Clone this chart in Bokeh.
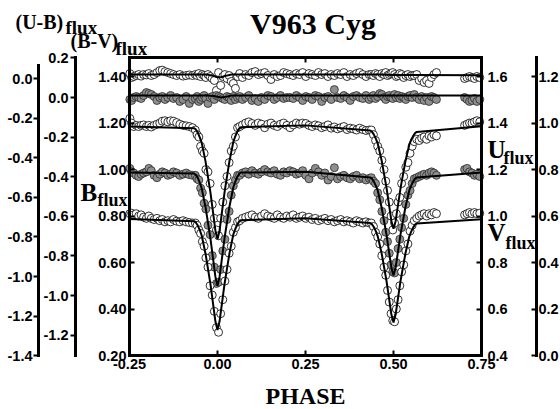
from bokeh.plotting import figure
from bokeh.models import Range1d, LinearAxis, FixedTicker, NumeralTickFormatter, Label
from bokeh.embed import file_html
from bokeh.resources import INLINE

# ---------------- data ----------------
phase = [
    -0.249, -0.244, -0.238, -0.231, -0.224, -0.217, -0.210, -0.202, -0.195, -0.188,
    -0.180, -0.172, -0.164, -0.157, -0.149, -0.141, -0.133, -0.125, -0.116, -0.107,
    -0.098, -0.089, -0.080, -0.071,
    -0.063, -0.058, -0.053, -0.048, -0.043, -0.038, -0.033, -0.027, -0.021, -0.015,
    -0.009, -0.003, 0.003, 0.009, 0.015, 0.021, 0.027, 0.033, 0.039, 0.045, 0.051, 0.057,
    0.063, 0.071, 0.080, 0.089, 0.098, 0.107, 0.116, 0.125, 0.134, 0.143,
    0.152, 0.161, 0.170, 0.179, 0.188, 0.197, 0.206, 0.215, 0.224, 0.233,
    0.242, 0.251, 0.260, 0.269, 0.278, 0.287, 0.296, 0.305, 0.314, 0.323,
    0.332, 0.341, 0.350, 0.359, 0.368, 0.377, 0.386, 0.395, 0.404, 0.413,
    0.422, 0.431,
    0.437, 0.443, 0.449, 0.455, 0.461, 0.467, 0.473, 0.478, 0.483, 0.488,
    0.493, 0.498, 0.503, 0.508, 0.513, 0.518, 0.523, 0.529, 0.535, 0.541, 0.547, 0.553,
    0.559, 0.566, 0.573, 0.580, 0.587, 0.594, 0.601, 0.608, 0.615, 0.622,
    0.702, 0.709, 0.716, 0.723, 0.730, 0.737, 0.745,
]

ub_flux = [
    0.025, 0.005, 0.010, 0.015, 0.020, 0.012, 0.020, 0.018, 0.025, 0.015,
    0.020, 0.030, 0.040, 0.042, 0.035, 0.030, 0.025, 0.020, 0.015, 0.020,
    0.012, 0.015, 0.018, 0.015,
    0.020, 0.015, 0.025, 0.010, 0.020, 0.015, 0.005, 0.020, 0.010, 0.000,
    -0.010, -0.060, 0.030, -0.035, 0.010, 0.020, 0.000, 0.015, -0.015, -0.025, -0.050, 0.010,
    0.025, 0.005, 0.020, 0.015, 0.030, 0.035, 0.020, 0.025, 0.030, 0.015,
    -0.005, 0.020, 0.010, 0.015, 0.030, 0.025, 0.020, 0.015, 0.025, 0.020,
    0.030, 0.010, 0.025, 0.020, 0.015, 0.030, 0.020, 0.025, 0.010, 0.020,
    0.015, 0.025, 0.020, 0.030, 0.010, 0.020, 0.015, 0.025, 0.030, 0.020,
    0.010, 0.020,
    0.020, 0.015, 0.025, 0.020, 0.010, 0.025, 0.020, 0.030, 0.015, 0.020,
    0.025, 0.030, 0.020, 0.010, 0.015, 0.025, 0.020, 0.005, 0.015, 0.020, 0.010, 0.015,
    0.015, 0.020, -0.010, 0.000, -0.020, -0.010, -0.025, 0.005, 0.020, 0.030,
    0.000, 0.005, 0.010, 0.005, 0.000, 0.010, 0.005,
]

bv_flux = [
    -0.010, -0.015, 0.000, 0.005, 0.000, -0.005, 0.010, 0.025, 0.020, 0.015,
    0.005, -0.015, 0.000, 0.005, -0.010, 0.000, 0.010, -0.005, 0.000, -0.020,
    -0.010, 0.005, -0.030, -0.010,
    -0.005, 0.005, -0.020, -0.010, 0.000, 0.010, -0.005, -0.030, 0.000, 0.005,
    -0.010, 0.010, 0.005, 0.000, -0.005, -0.010, 0.005, 0.000, -0.015, 0.005, -0.010, 0.000,
    0.005, -0.010, 0.000, 0.010, -0.015, -0.005, -0.020, 0.000, -0.010, 0.010,
    0.005, -0.010, 0.000, 0.010, -0.005, 0.000, 0.000, -0.005, 0.010, 0.000,
    -0.015, 0.005, 0.000, -0.010, 0.010, 0.005, -0.020, 0.000, 0.005, -0.010,
    0.040, 0.000, -0.005, 0.010, 0.000, -0.015, 0.005, 0.010, 0.000, -0.005,
    0.010, -0.010,
    0.000, 0.010, -0.005, 0.005, 0.020, 0.015, 0.000, -0.010, 0.005, 0.010,
    0.000, -0.005, 0.015, 0.000, 0.010, -0.005, 0.005, 0.000, -0.010, 0.005, 0.010, 0.000,
    0.015, 0.000, -0.010, 0.005, -0.015, 0.000, -0.020, 0.005, 0.000, -0.010,
    0.000, -0.010, -0.020, -0.015, -0.005, -0.020, -0.010,
]

u_flux = [
    1.420, 1.400, 1.385, 1.390, 1.385, 1.390, 1.392, 1.385, 1.390, 1.383,
    1.390, 1.395, 1.400, 1.408, 1.410, 1.405, 1.410, 1.408, 1.402, 1.395,
    1.390, 1.388, 1.385, 1.380,
    1.370, 1.350, 1.340, 1.300, 1.280, 1.270, 1.200, 1.190, 1.140, 1.050,
    0.990, 0.940, 0.915, 0.990, 1.060, 1.130, 1.170, 1.230, 1.280, 1.300, 1.340, 1.380,
    1.385, 1.392, 1.400, 1.405, 1.398, 1.390, 1.400, 1.395, 1.380, 1.395,
    1.400, 1.390, 1.385, 1.395, 1.400, 1.390, 1.380, 1.392, 1.400, 1.395,
    1.400, 1.398, 1.390, 1.385, 1.392, 1.388, 1.380, 1.385, 1.392, 1.378,
    1.383, 1.375, 1.380, 1.385, 1.372, 1.378, 1.375, 1.370, 1.378, 1.372,
    1.368, 1.370,
    1.370, 1.350, 1.325, 1.300, 1.280, 1.240, 1.200, 1.150, 1.110, 1.060,
    1.000, 0.940, 0.970, 1.010, 1.060, 1.080, 1.140, 1.170, 1.210, 1.230, 1.270, 1.300,
    1.320, 1.330, 1.325, 1.335, 1.340, 1.330, 1.345, 1.340, 1.350, 1.345,
    1.390, 1.395, 1.400, 1.400, 1.405, 1.410, 1.405,
]

b_flux = [
    1.005, 0.990, 0.985, 0.975, 0.970, 0.980, 0.985, 0.990, 1.005, 0.995,
    0.975, 0.965, 0.980, 0.990, 0.985, 0.975, 0.980, 0.990, 0.985, 0.975,
    0.980, 0.985, 0.978, 0.975,
    0.975, 0.960, 0.955, 0.920, 0.900, 0.855, 0.830, 0.760, 0.720, 0.630,
    0.580, 0.510, 0.515, 0.570, 0.650, 0.700, 0.785, 0.820, 0.890, 0.930, 0.955, 0.975,
    0.975, 0.985, 0.990, 0.980, 0.995, 0.985, 0.980, 0.990, 1.000, 0.990,
    0.985, 0.995, 0.980, 0.975, 0.990, 0.985, 0.995, 0.990, 0.980, 0.985,
    0.995, 0.975, 0.960, 0.985, 1.005, 0.990, 0.975, 0.985, 0.955, 0.970,
    1.008, 0.960, 0.970, 0.975, 0.965, 0.960, 0.970, 0.975, 0.960, 0.965,
    0.955, 0.962,
    0.965, 0.950, 0.940, 0.900, 0.870, 0.820, 0.780, 0.730, 0.690, 0.640,
    0.590, 0.560, 0.555, 0.600, 0.660, 0.700, 0.750, 0.790, 0.850, 0.890, 0.910, 0.940,
    0.960, 0.965, 0.970, 0.975, 0.980, 0.975, 0.985, 0.990, 0.985, 0.975,
    1.000, 1.005, 0.990, 0.985, 0.975, 0.980, 0.970,
]

v_flux = [
    1.010, 1.012, 1.005, 1.010, 1.000, 1.005, 0.995, 0.990, 1.000, 0.990,
    0.985, 0.990, 0.980, 0.985, 0.975, 0.980, 0.975, 0.985, 0.978, 0.975,
    0.980, 0.975, 0.972, 0.970,
    0.970, 0.960, 0.940, 0.925, 0.890, 0.870, 0.820, 0.780, 0.700, 0.660,
    0.590, 0.520, 0.500, 0.580, 0.640, 0.720, 0.770, 0.840, 0.870, 0.930, 0.950, 0.975,
    0.980, 0.990, 0.995, 1.000, 1.005, 0.995, 0.990, 1.000, 1.010, 1.000,
    0.995, 0.990, 1.005, 0.995, 0.990, 1.000, 0.995, 1.005, 0.990, 0.995,
    1.000, 0.990, 0.995, 0.985, 0.990, 0.980, 0.985, 0.990, 0.980, 0.985,
    0.975, 0.980, 0.985, 0.975, 0.980, 0.975, 0.970, 0.980, 0.975, 0.970,
    0.975, 0.970,
    0.970, 0.955, 0.930, 0.910, 0.880, 0.830, 0.780, 0.745, 0.680, 0.630,
    0.580, 0.550, 0.545, 0.600, 0.640, 0.700, 0.760, 0.790, 0.850, 0.880, 0.935, 0.960,
    0.980, 0.990, 1.000, 1.005, 1.010, 1.000, 1.010, 1.005, 1.015, 1.010,
    1.005, 1.010, 1.015, 1.010, 1.015, 1.010, 1.012,
]

# model (fitted) light curves
model_phase = [-0.25, -0.066, -0.062, -0.056, -0.05, -0.045, -0.034, -0.02, -0.006, 0.0,
               0.006, 0.02, 0.034, 0.045, 0.05, 0.056, 0.062, 0.066, 0.25, 0.434,
               0.438, 0.444, 0.45, 0.455, 0.466, 0.48, 0.494, 0.5, 0.506, 0.52,
               0.534, 0.545, 0.55, 0.556, 0.562, 0.566, 0.75]
model_u = [1.385, 1.378, 1.373, 1.359, 1.337, 1.316, 1.235, 1.101, 0.938, 0.900,
           0.939, 1.102, 1.237, 1.319, 1.341, 1.363, 1.377, 1.382, 1.390, 1.368,
           1.364, 1.351, 1.332, 1.313, 1.241, 1.123, 0.979, 0.945, 0.978, 1.120,
           1.237, 1.308, 1.327, 1.345, 1.358, 1.362, 1.386]
model_b = [0.987, 0.983, 0.978, 0.964, 0.942, 0.920, 0.838, 0.703, 0.539, 0.500,
           0.539, 0.705, 0.841, 0.924, 0.946, 0.968, 0.982, 0.987, 0.990, 0.966,
           0.962, 0.949, 0.930, 0.911, 0.839, 0.721, 0.578, 0.544, 0.578, 0.721,
           0.839, 0.911, 0.930, 0.949, 0.962, 0.966, 0.987]
model_v = [0.987, 0.978, 0.973, 0.959, 0.938, 0.917, 0.838, 0.707, 0.547, 0.510,
           0.548, 0.708, 0.840, 0.921, 0.942, 0.963, 0.977, 0.982, 0.990, 0.970,
           0.966, 0.953, 0.934, 0.914, 0.842, 0.722, 0.576, 0.542, 0.576, 0.721,
           0.840, 0.913, 0.932, 0.951, 0.964, 0.968, 0.986]
color_model_phase = [-0.25, -0.03, -0.01, 0.0, 0.01, 0.02, 0.04, 0.25, 0.46, 0.5, 0.54, 0.75]
model_ub = [0.02, 0.02, 0.012, 0.006, 0.006, 0.012, 0.02, 0.02, 0.02, 0.018, 0.018, 0.017]
model_bv = [0.01, 0.01, 0.008, 0.004, 0.0, 0.002, 0.01, 0.01, 0.01, 0.01, 0.01, 0.01]

x_ticks = [-0.25, 0.0, 0.25, 0.5, 0.75]
b_ticks = [0.2, 0.4, 0.6, 0.8, 1.0, 1.2, 1.4]
u_ticks = [0.4, 0.6, 0.8, 1.0, 1.2, 1.4, 1.6]
fr_ticks = [0.0, 0.2, 0.4, 0.6, 0.8, 1.0, 1.2]
bv_ticks = [0.2, 0.0, -0.2, -0.4, -0.6, -0.8, -1.0, -1.2]
ub_ticks = [0.0, -0.2, -0.4, -0.6, -0.8, -1.0, -1.2, -1.4]

# ---------------- geometry: page pixels of the plot box ----------------
W, H = 560, 409
BOX_L, BOX_R, BOX_T, BOX_B = 129.0, 481.0, 57.0, 355.0
PH0, PH1 = -0.25, 0.75          # phase at box left / right
B0, B1 = 0.2, 1.482             # B flux at box bottom / top
XS = (BOX_R - BOX_L) / (PH1 - PH0)   # px per phase unit
YS = (BOX_B - BOX_T) / (B1 - B0)     # px per flux unit
CS = 198.0                            # px per unit of the two colour axes


def px_x(px):
    return PH0 + (px - BOX_L) / XS


def px_y(py):
    return B0 + (BOX_B - py) / YS


x_lo, x_hi = px_x(0), px_x(W)
y_lo, y_hi = px_y(H), px_y(0)

p = figure(width=W, height=H, x_range=Range1d(x_lo, x_hi), y_range=Range1d(y_lo, y_hi),
           output_backend="svg", toolbar_location=None, min_border=0)
p.title.visible = False
p.extra_y_ranges = {
    "u": Range1d(y_lo + 0.2, y_hi + 0.2),
    "fr": Range1d(y_lo - 0.2, y_hi - 0.2),
    "bv": Range1d((97 - H) / CS, 97 / CS),
    "ub": Range1d((78 - H) / CS, 78 / CS),
}
p.xgrid.visible = False
p.ygrid.visible = False
p.outline_line_color = None
p.background_fill_color = "white"
p.border_fill_color = "white"

SANS = "Liberation Sans"
SERIF = "Liberation Serif"


def style(ax, ticks, fmt, tin, tout, standoff, loc, bounds):
    ax.fixed_location = loc
    ax.bounds = bounds
    ax.ticker = FixedTicker(ticks=ticks)
    ax.formatter = NumeralTickFormatter(format=fmt)
    ax.major_tick_in = tin
    ax.major_tick_out = tout
    ax.minor_tick_in = 0
    ax.minor_tick_out = 0
    ax.axis_line_width = 3
    ax.axis_line_color = "black"
    ax.axis_line_cap = "square"
    ax.major_tick_line_width = 2
    ax.major_tick_line_color = "black"
    ax.major_label_text_font = SANS
    ax.major_label_text_font_style = "bold"
    ax.major_label_text_font_size = "14.5px"
    ax.major_label_text_color = "black"
    ax.major_label_standoff = standoff


# box: left (B flux), bottom (phase), top, right (U/V flux)
style(p.yaxis[0], b_ticks, "0.00", 5, 0, 3, PH0, (B0, B1))
style(p.xaxis[0], x_ticks, "0.00", 5, 0, 3, B0, (PH0, PH1))
p.xaxis[0].axis_label = "PHASE"
p.xaxis[0].axis_label_text_font = SERIF
p.xaxis[0].axis_label_text_font_style = "bold"
p.xaxis[0].axis_label_text_font_size = "24px"
p.xaxis[0].axis_label_text_color = "black"
p.xaxis[0].axis_label_standoff = 11

top_axis = LinearAxis()
style(top_axis, x_ticks, "0.00", 5, 0, 0, B1, (PH0, PH1))
top_axis.major_label_text_color = None      # tick marks only, no numbers on top
p.add_layout(top_axis, "above")

u_axis = LinearAxis(y_range_name="u")
style(u_axis, u_ticks, "0.0", 5, 0, 6, PH1, (B0 + 0.2, B1 + 0.2))
p.add_layout(u_axis, "right")

fr_axis = LinearAxis(y_range_name="fr")
style(fr_axis, fr_ticks, "0.0", 5, 0, 2, px_x(536), (B0 - 0.2, B1 - 0.2))
p.add_layout(fr_axis, "right")

bv_axis = LinearAxis(y_range_name="bv")
style(bv_axis, bv_ticks, "0.0", 0, 5, 2, px_x(75), ((97 - BOX_B) / CS, 0.2))
p.add_layout(bv_axis, "left")

ub_axis = LinearAxis(y_range_name="ub")
style(ub_axis, ub_ticks, "0.0", 0, 5, 1, px_x(38), (-1.4, (78 - 65) / CS))
p.add_layout(ub_axis, "left")

# ---------------- data glyphs ----------------
open_style = dict(size=8, fill_color="white", line_color="black", line_width=0.8)
gray_style = dict(size=8, fill_color="#8f8f8f", line_color="#2a2a2a", line_width=0.8)

p.scatter(phase, ub_flux, y_range_name="ub", **open_style)
p.scatter(phase, bv_flux, y_range_name="bv", **gray_style)
p.scatter(phase, u_flux, y_range_name="u", **open_style)
p.scatter(phase, b_flux, **gray_style)
p.scatter(phase, v_flux, y_range_name="u", **open_style)

p.line(color_model_phase, model_ub, y_range_name="ub", line_width=2, color="black")
p.line(color_model_phase, model_bv, y_range_name="bv", line_width=2, color="black")
p.line(model_phase, model_u, y_range_name="u", line_width=2, color="black")
p.line(model_phase, model_b, line_width=2, color="black")
p.line(model_phase, model_v, y_range_name="u", line_width=2, color="black")


# ---------------- text labels (baseline positions in page pixels) ----------------
def add_label(text, px, py, size, align="left"):
    anchor = py - 0.32 * size
    p.add_layout(Label(x=px_x(px), y=px_y(anchor), text=text, text_font=SERIF,
                       text_font_style="bold", text_font_size=f"{size}px",
                       text_align=align, text_baseline="alphabetic", text_color="black"))


add_label("V963 Cyg", 312.5, 33, 30, align="center")
add_label("(U-B)", 15, 28, 20)
add_label("flux", 65, 33, 19)
add_label("(B-V)", 70, 47, 20)
add_label("flux", 115, 54, 19)
add_label("B", 80, 200, 25)
add_label("flux", 97, 205, 18)
add_label("U", 487, 157, 25)
add_label("flux", 503, 163, 18)
add_label("V", 487, 240, 25)
add_label("flux", 505, 248, 18)

open("out.html", "w").write(file_html(p, INLINE))
